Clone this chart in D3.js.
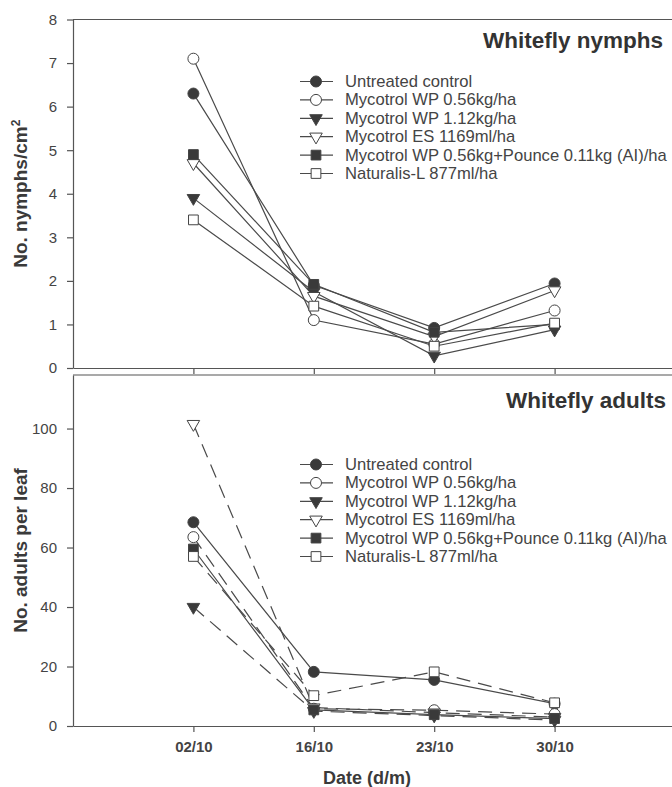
<!DOCTYPE html>
<html>
<head>
<meta charset="utf-8">
<script src="https://cdn.jsdelivr.net/npm/d3@7"></script>
<style>
  body { margin: 0; background: #fff; }
  svg { display: block; font-family: Arial, "Liberation Sans", sans-serif; }
</style>
</head>
<body>
<script>
var w = 672;
var h = 787;

// dates sampled (equally spaced on the axis)
var dates = ['02/10', '16/10', '23/10', '30/10'];

var treatments = [
    'Untreated control',
    'Mycotrol WP 0.56kg/ha',
    'Mycotrol WP 1.12kg/ha',
    'Mycotrol ES 1169ml/ha',
    'Mycotrol WP 0.56kg+Pounce 0.11kg (AI)/ha',
    'Naturalis-L 877ml/ha'
];

// No. nymphs/cm2, one row per treatment
var nymphValues = [
    [6.3, 1.9, 0.92, 1.94],
    [7.1, 1.1, 0.55, 1.32],
    [3.9, 1.75, 0.28, 0.88],
    [4.7, 1.65, 0.72, 1.78],
    [4.9, 1.92, 0.82, 1.0],
    [3.4, 1.42, 0.5, 1.03]
];

// No. adults per leaf, one row per treatment
var adultValues = [
    [68.5, 18.2, 15.5, 7.5],
    [63.5, 5.8, 5.3, 4.0],
    [40, 5.0, 3.5, 2.0],
    [101.5, 6.2, 4.5, 3.0],
    [59.5, 5.4, 3.8, 2.5],
    [57, 10.2, 18.2, 7.8]
];

var nymphTicks = [0, 1, 2, 3, 4, 5, 6, 7, 8];
var adultTicks = [0, 20, 40, 60, 80, 100];

// marker styles per treatment
var symbols = ['circle', 'circle', 'triDown', 'triDown', 'square', 'square'];
var filled = [true, false, true, false, true, false];
var adultDash = [null, '14,8', '14,8', '14,8', null, '14,8'];

var lineInk = '#555';

var svg = d3.select('body').append('svg')
    .attr('width', w).attr('height', h);

var x = d3.scaleLinear().domain([0, dates.length + 1]).range([73, 675]);

function drawMarker(g, i, cx, cy) {
    var fill = filled[i] ? '#3a3a3a' : '#fff';
    var m;
    if (symbols[i] == 'circle') {
        m = g.append('path').attr('d', d3.symbol(d3.symbolCircle, 95)());
    } else if (symbols[i] == 'square') {
        m = g.append('path').attr('d', d3.symbol(d3.symbolSquare, 95)());
    } else {
        m = g.append('path').attr('d', d3.symbol(d3.symbolTriangle, 68)());
    }
    m.attr('transform', 'translate(' + cx + ',' + cy + ')' + (symbols[i] == 'triDown' ? ' rotate(180)' : ''))
        .attr('fill', fill)
        .attr('stroke', '#444')
        .attr('stroke-width', 1);
}

function panel(opts) {
    var y = d3.scaleLinear().domain(opts.domain).range([opts.bottom, opts.top]);
    var g = svg.append('g');

    // frame top line
    g.append('line')
        .attr('x1', x(0)).attr('x2', w + 5)
        .attr('y1', opts.top).attr('y2', opts.top)
        .attr('stroke', lineInk).attr('stroke-width', 1.2);

    // y axis
    var ya = g.append('g')
        .attr('transform', 'translate(' + x(0) + ',0)')
        .call(d3.axisLeft(y).tickValues(opts.ticks).tickSize(6).tickSizeOuter(0).tickPadding(10));
    ya.selectAll('text').attr('font-size', '15px').attr('fill', '#444').attr('font-family', 'Arial, "Liberation Sans", sans-serif');

    // x axis
    var xa = g.append('g')
        .attr('transform', 'translate(0,' + opts.bottom + ')')
        .call(d3.axisBottom(x).tickValues(d3.range(1, dates.length + 1))
            .tickFormat(function(d) { return opts.xLabels ? dates[d - 1] : ''; })
            .tickSize(6).tickSizeOuter(0).tickPadding(9));
    xa.selectAll('text').attr('font-size', '15px').attr('font-weight', 'bold').attr('fill', '#444')
        .attr('font-family', 'Arial, "Liberation Sans", sans-serif');

    svg.selectAll('.domain, .tick line').attr('stroke', lineInk).attr('stroke-width', 1.2);

    // series lines
    var line = d3.line()
        .x(function(d, j) { return x(j + 1); })
        .y(function(d) { return y(d); });

    opts.values.forEach(function(vals, i) {
        g.append('path')
            .attr('d', line(vals))
            .attr('fill', 'none')
            .attr('stroke', '#4a4a4a')
            .attr('stroke-width', 1.2)
            .attr('stroke-dasharray', opts.dash ? opts.dash[i] : null);
    });
    opts.values.forEach(function(vals, i) {
        vals.forEach(function(v, j) {
            drawMarker(g, i, x(j + 1), y(v));
        });
    });

    // title
    g.append('text')
        .attr('x', opts.titleX).attr('y', opts.titleY)
        .attr('text-anchor', 'end')
        .attr('font-size', '22.5px').attr('font-weight', 'bold')
        .attr('fill', '#333')
        .text(opts.title);

    // legend
    treatments.forEach(function(t, i) {
        var ly = opts.legendY + i * 18.4;
        g.append('line')
            .attr('x1', 300).attr('x2', 333)
            .attr('y1', ly).attr('y2', ly)
            .attr('stroke', '#4a4a4a').attr('stroke-width', 1.2);
        drawMarker(g, i, 316, ly);
        g.append('text')
            .attr('x', 345).attr('y', ly + 5.5)
            .attr('font-size', '16.6px')
            .attr('fill', '#444')
            .text(t);
    });

    // y axis title
    var mid = (opts.top + opts.bottom) / 2;
    var yt = g.append('text')
        .attr('transform', 'translate(27,' + mid + ') rotate(-90)')
        .attr('text-anchor', 'middle')
        .attr('font-size', '19px').attr('font-weight', 'bold')
        .attr('fill', '#3a3a3a');
    yt.append('tspan').text(opts.yTitle);
    if (opts.sup) {
        yt.append('tspan').attr('dy', -7).attr('font-size', '12px').text(opts.sup);
    }
}

panel({
    domain: [0, 8], top: 19.5, bottom: 368, ticks: nymphTicks,
    values: nymphValues, xLabels: false,
    title: 'Whitefly nymphs', titleX: 663, titleY: 48,
    legendY: 81.5, yTitle: 'No. nymphs/cm', sup: '2'
});

panel({
    domain: [0, 118], top: 375, bottom: 726, ticks: adultTicks,
    values: adultValues, xLabels: true, dash: adultDash,
    title: 'Whitefly adults', titleX: 666, titleY: 408,
    legendY: 464.5, yTitle: 'No. adults per leaf'
});

// x axis title
svg.append('text')
    .attr('x', 367).attr('y', 784)
    .attr('text-anchor', 'middle')
    .attr('font-size', '18px').attr('font-weight', 'bold')
    .attr('fill', '#3a3a3a')
    .text('Date (d/m)');
</script>
</body>
</html>
